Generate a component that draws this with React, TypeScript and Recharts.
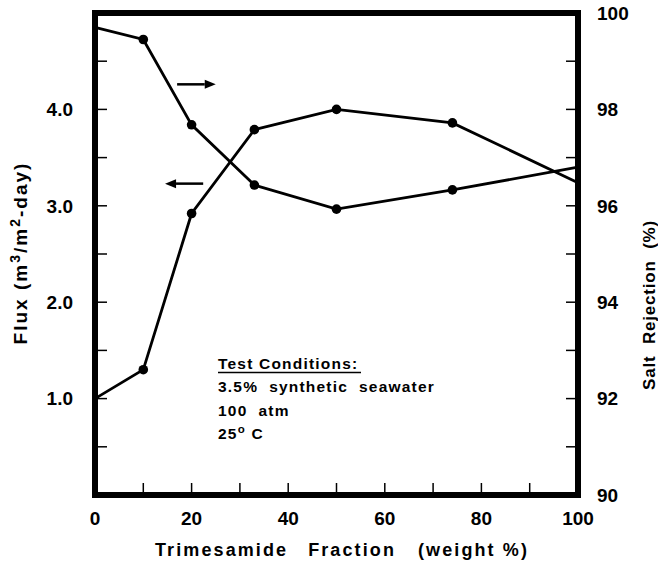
import React from 'react';
import { LineChart, Line, XAxis, YAxis, ReferenceLine, Customized } from 'recharts';

const fractions = [0, 10, 20, 33, 50, 74, 100];
const fluxValues = [1.0, 1.3, 2.92, 3.79, 4.0, 3.86, 3.24];
const rejectionValues = [99.7, 99.45, 97.68, 96.43, 95.93, 96.33, 96.8];

const xTicks = [0, 10, 20, 30, 40, 50, 60, 70, 80, 90, 100];
const fluxTicks = [0, 0.5, 1, 1.5, 2, 2.5, 3, 3.5, 4, 4.5, 5];
const rejectionTicks = [90, 91, 92, 93, 94, 95, 96, 97, 98, 99, 100];

const conditionLines = ['3.5%  synthetic  seawater', '100  atm'];

const data = fractions.map((f, i) => ({ f, flux: fluxValues[i], rej: rejectionValues[i] }));

const FONT = '"Liberation Sans", Arial, Helvetica, sans-serif';
const tickStyle = { fontFamily: FONT, fontWeight: 700, fontSize: 19, fill: '#000' };
const axisLineStyle = { stroke: '#000', strokeWidth: 6, strokeLinecap: 'square' as const };
const tickLineStyle = { stroke: '#000', strokeWidth: 1.5 };

const lastIdx = fractions.length - 1;
const renderDot = (props: any) => {
  const { cx, cy, index } = props;
  if (index === 0 || index === lastIdx) return <g key={`d${index}`} />;
  return <circle key={`d${index}`} cx={cx} cy={cy} r={4.8} fill="#000" stroke="none" />;
};

const arrowShape = (dir: number) => (props: any) => {
  const { x1, y1, x2, y2 } = props;
  const tipX = dir > 0 ? Math.max(x1, x2) : Math.min(x1, x2);
  const tailX = dir > 0 ? Math.min(x1, x2) : Math.max(x1, x2);
  const y = (y1 + y2) / 2;
  const baseX = tipX - dir * 11;
  return (
    <g>
      <line x1={tailX} y1={y} x2={baseX} y2={y} stroke="#000" strokeWidth={2.5} />
      <polygon points={`${tipX},${y} ${baseX},${y - 4.5} ${baseX},${y + 4.5}`} fill="#000" />
    </g>
  );
};

const Texts = () => (
  <g fontFamily={FONT} fontWeight={700} fill="#000">
    <text
      transform="translate(27,253) rotate(-90)"
      textAnchor="middle"
      fontSize={19}
      letterSpacing={2}
    >
      Flux (m<tspan dy={-7} fontSize={14}>3</tspan>
      <tspan dy={7}>/m</tspan>
      <tspan dy={-7} fontSize={14}>2</tspan>
      <tspan dy={7}>-day)</tspan>
    </text>
    <text
      transform="translate(655,305) rotate(-90)"
      textAnchor="middle"
      fontSize={17}
      letterSpacing={0.8}
      wordSpacing={6}
    >
      Salt Rejection (%)
    </text>
    <text x={342} y={556} textAnchor="middle" fontSize={18} letterSpacing={2.1}>
      <tspan>Trimesamide</tspan>
      <tspan dx={20}>Fraction</tspan>
      <tspan dx={22}>(weight %)</tspan>
    </text>
    <text x={218} y={369} fontSize={15.5} letterSpacing={1.2}>
      Test Conditions:
    </text>
    <line x1={218} y1={372.5} x2={361} y2={372.5} stroke="#000" strokeWidth={1.5} />
    {conditionLines.map((t, i) => (
      <text key={t} x={218} y={392 + i * 23.5} fontSize={15.5} letterSpacing={1.2} style={{ whiteSpace: 'pre' }}>
        {t}
      </text>
    ))}
    <text x={218} y={439} fontSize={15.5} letterSpacing={1.2}>
      25<tspan dy={-6} fontSize={11.5}>o</tspan>
      <tspan dy={6}> C</tspan>
    </text>
  </g>
);

export default function App() {
  return (
    <div style={{ position: 'absolute', left: 0, top: 0, background: '#fff' }}>
      <LineChart width={658} height={563} data={data} margin={{ top: 0, right: 0, bottom: 0, left: 0 }}>
        <XAxis
          xAxisId="x"
          dataKey="f"
          type="number"
          domain={[0, 100]}
          ticks={xTicks}
          interval={0}
          height={68}
          orientation="bottom"
          axisLine={axisLineStyle}
          tickLine={tickLineStyle}
          tickSize={-12}
          tickMargin={29}
          tick={tickStyle}
          tickFormatter={(v: number) => (v % 20 === 0 ? String(v) : '')}
        />
        <XAxis
          xAxisId="top"
          dataKey="f"
          type="number"
          domain={[0, 100]}
          ticks={xTicks}
          interval={0}
          height={13}
          orientation="top"
          axisLine={axisLineStyle}
          tickLine={tickLineStyle}
          tickSize={-12}
          tick={false}
        />
        <YAxis
          yAxisId="left"
          type="number"
          domain={[0, 5]}
          ticks={fluxTicks}
          interval={0}
          width={95}
          orientation="left"
          axisLine={axisLineStyle}
          tickLine={tickLineStyle}
          tickSize={-12}
          tickMargin={34}
          tick={tickStyle}
          tickFormatter={(v: number) => (v >= 1 && v <= 4 && Number.isInteger(v) ? v.toFixed(1) : '')}
        />
        <YAxis
          yAxisId="right"
          type="number"
          domain={[90, 100]}
          ticks={rejectionTicks}
          interval={0}
          width={80}
          orientation="right"
          axisLine={axisLineStyle}
          tickLine={tickLineStyle}
          tickSize={-12}
          tickMargin={31}
          tick={tickStyle}
          tickFormatter={(v: number) => (v % 2 === 0 ? String(v) : '')}
        />
        <Line
          xAxisId="x"
          yAxisId="left"
          dataKey="flux"
          type="linear"
          stroke="#000"
          strokeWidth={2.8}
          dot={renderDot}
          activeDot={false}
          isAnimationActive={false}
        />
        <Line
          xAxisId="x"
          yAxisId="right"
          dataKey="rej"
          type="linear"
          stroke="#000"
          strokeWidth={2.8}
          dot={renderDot}
          activeDot={false}
          isAnimationActive={false}
        />
        <ReferenceLine
          xAxisId="x"
          yAxisId="left"
          segment={[{ x: 17, y: 4.26 }, { x: 25, y: 4.26 }]}
          shape={arrowShape(1)}
        />
        <ReferenceLine
          xAxisId="x"
          yAxisId="left"
          segment={[{ x: 14.5, y: 3.23 }, { x: 22.4, y: 3.23 }]}
          shape={arrowShape(-1)}
        />
        <Customized component={Texts} />
      </LineChart>
    </div>
  );
}
